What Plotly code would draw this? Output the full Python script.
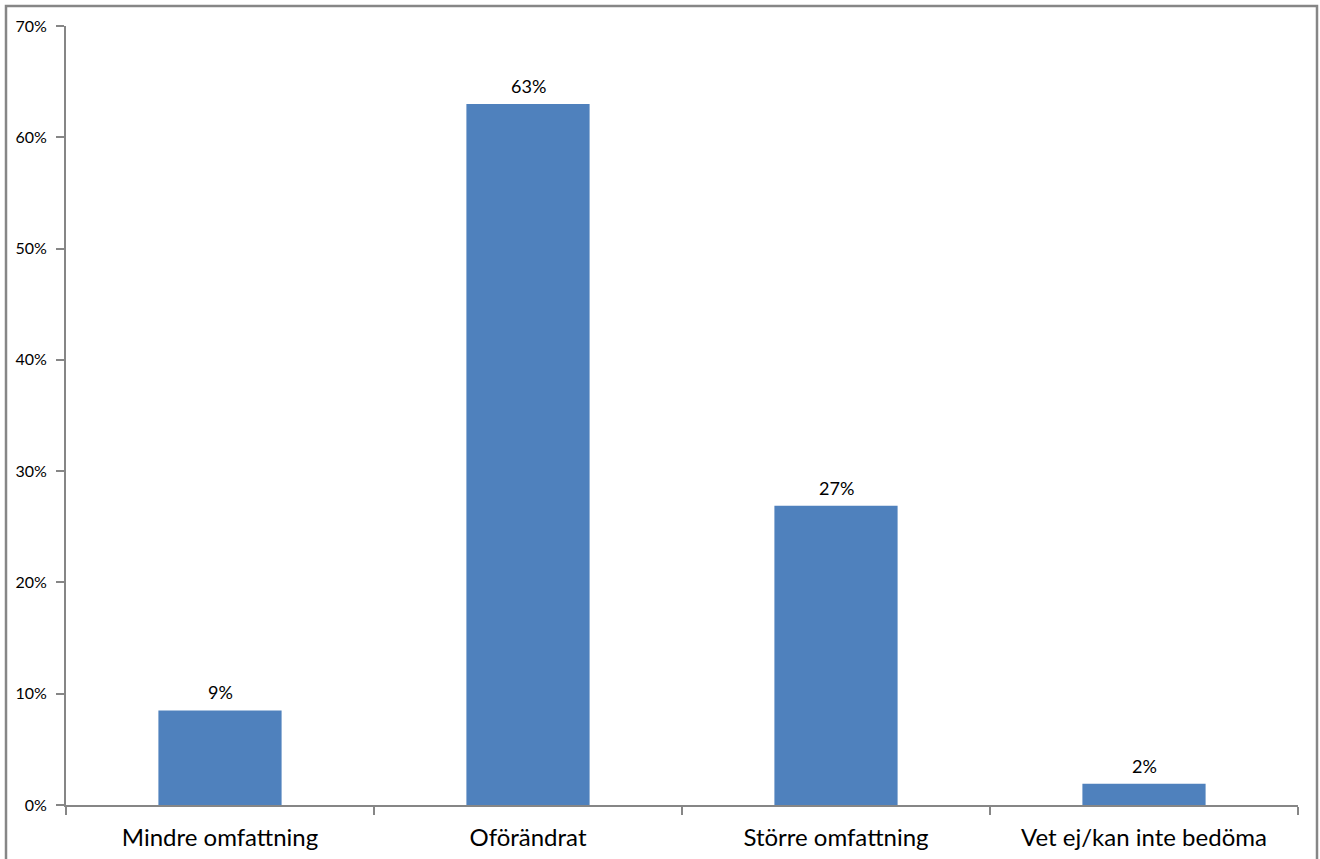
import plotly.graph_objects as go

categories = ["Mindre omfattning", "Oförändrat", "Större omfattning", "Vet ej/kan inte bedöma"]
values = [8.5, 63.0, 26.9, 1.9]
labels = ["9%", "63%", "27%", "2%"]
y_ticks = [0, 10, 20, 30, 40, 50, 60, 70]
y_tick_text = ["0%", "10%", "20%", "30%", "40%", "50%", "60%", "70%"]

FONT = "Lato, Open Sans, sans-serif"
GRAY = "#868686"

fig = go.Figure(go.Bar(
    x=categories, y=values,
    marker=dict(color="#4F81BD", line=dict(width=0)),
    width=0.4, hoverinfo="x+y",
))

annotations = [
    dict(x=c, y=v, text=t, xref="x", yref="y", showarrow=False,
         yanchor="bottom", yshift=5, font=dict(size=18, color="black", family=FONT))
    for c, v, t in zip(categories, values, labels)
]

L, R, T, B = 66, 22, 26, 54
W, H = 1320, 859
pw, ph = W - L - R, H - T - B

fig.update_layout(
    width=W, height=H,
    margin=dict(l=L, r=R, t=T, b=B, pad=0, autoexpand=False),
    paper_bgcolor="white", plot_bgcolor="white",
    showlegend=False,
    font=dict(family=FONT, color="black"),
    xaxis=dict(
        type="category", showline=True, linecolor=GRAY, linewidth=2,
        ticks="outside", tickson="boundaries", ticklen=8, tickwidth=2, tickcolor=GRAY,
        tickfont=dict(size=24), showgrid=False, zeroline=False,
        ticklabelstandoff=10, automargin=False,
    ),
    yaxis=dict(
        range=[0, 70], tickvals=y_ticks, ticktext=y_tick_text,
        showline=True, linecolor=GRAY, linewidth=2,
        ticks="outside", ticklen=8, tickwidth=2, tickcolor=GRAY,
        tickfont=dict(size=16), showgrid=False, zeroline=False,
        ticklabelstandoff=6, automargin=False,
    ),
    annotations=annotations,
    shapes=[dict(
        type="rect", xref="paper", yref="paper",
        x0=(6 - L) / pw, x1=(1317 - L) / pw,
        y0=-(880 - (H - B)) / ph, y1=1 + (T - 6) / ph,
        line=dict(color=GRAY, width=2.5), fillcolor="rgba(0,0,0,0)", layer="below",
    )],
)

fig.write_html(
    "out.html",
    config={"displayModeBar": False},
    post_script="document.body.style.margin='0';document.body.style.overflow='hidden';",
)
